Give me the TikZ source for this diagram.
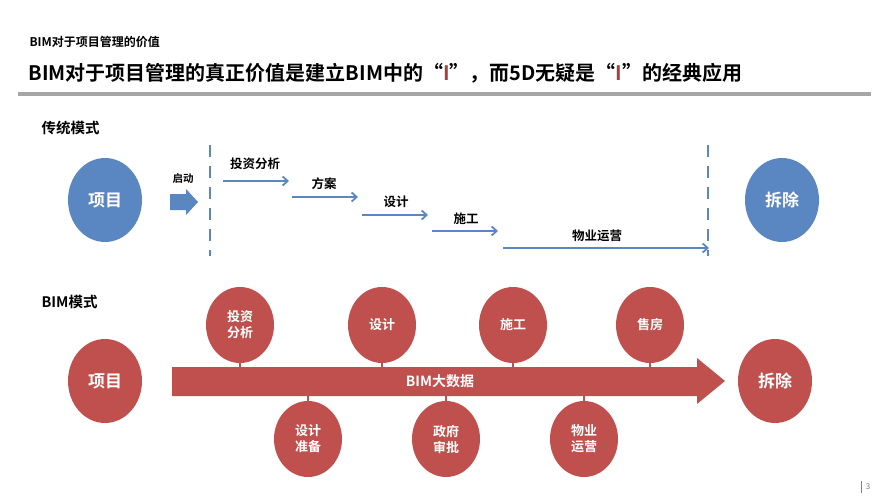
\documentclass[tikz,border=0pt]{standalone}
\usepackage{fontspec}
\setmainfont{Noto Sans CJK SC}[BoldFont={* Bold}]
\usetikzlibrary{arrows.meta,shapes.geometric}
\definecolor{bl}{HTML}{5A86C2}
\definecolor{rd}{HTML}{C0504D}
\begin{document}
\begin{tikzpicture}[x=1pt,y=-1pt,font=\bfseries,
  bcirc/.style={ellipse,draw=none,fill=bl,minimum width=74pt,minimum height=84pt,text=white,font=\bfseries\fontsize{17}{17}\selectfont},
  rcirc/.style={ellipse,draw=none,fill=rd,minimum width=74pt,minimum height=84pt,text=white,font=\bfseries\fontsize{17}{17}\selectfont},
  scirc/.style={ellipse,draw=none,fill=rd,minimum width=68pt,minimum height=76pt,inner sep=0pt,text=white,align=center,font=\bfseries\fontsize{13}{16}\selectfont},
  parr/.style={draw=bl,line width=1.8pt,-{Straight Barb[length=5pt,width=9pt]}},
  lbl/.style={font=\bfseries\fontsize{12.5}{12.5}\selectfont},
  stem/.style={draw=rd,line width=1.5pt}]
\useasboundingbox (0,0) rectangle (889,500);
\fill[white] (0,0) rectangle (889,500);
\node[anchor=west,font=\bfseries\fontsize{12}{12}\selectfont] (h1) at (26,42) {BIM对于项目管理的价值};
\node[anchor=west,font=\bfseries\fontsize{20}{20}\selectfont] (h2) at (25,73) {BIM对于项目管理的真正价值是建立BIM中的“\textcolor{rd!85!black}{I}”，而5D无疑是“\textcolor{rd!85!black}{I}”的经典应用};
\fill[gray!70] (18,92.5) rectangle (871,96);
\node[anchor=west,font=\bfseries\fontsize{14.5}{14.5}\selectfont] (t1) at (38,128) {传统模式};
\node[anchor=west,font=\bfseries\fontsize{14.5}{14.5}\selectfont] (t2) at (38,302) {BIM模式};
% traditional
\node[bcirc] (p1) at (105,200) {项目};
\node[bcirc] (e1) at (782,200) {拆除};
\coordinate (d1a) at (210,145); \coordinate (d1b) at (210,256);
\coordinate (d2a) at (708,145); \coordinate (d2b) at (708,256);
\draw[bl,line width=1.8pt,dash pattern=on 12pt off 9pt] (d1a)--(d1b);
\draw[bl,line width=1.8pt,dash pattern=on 12pt off 9pt] (d2a)--(d2b);
\node[lbl,font=\bfseries\fontsize{10.5}{10.5}\selectfont] (qd) at (183,179) {启动};
\fill[bl] (170,194)--(186,194)--(186,189)--(198,202)--(186,215)--(186,210)--(170,210)--cycle;
\coordinate (a1s) at (223,181); \coordinate (a1e) at (289,181);
\coordinate (a2s) at (292,197); \coordinate (a2e) at (358,197);
\coordinate (a3s) at (362,215); \coordinate (a3e) at (428,215);
\coordinate (a4s) at (432,231); \coordinate (a4e) at (498,231);
\coordinate (a5s) at (503,248); \coordinate (a5e) at (709,248);
\draw[parr] (a1s)--(a1e); \draw[parr] (a2s)--(a2e); \draw[parr] (a3s)--(a3e);
\draw[parr] (a4s)--(a4e); \draw[parr] (a5s)--(a5e);
\node[lbl] (l1) at (255,164) {投资分析};
\node[lbl] (l2) at (324,184) {方案};
\node[lbl] (l3) at (396,202) {设计};
\node[lbl] (l4) at (466,219) {施工};
\node[lbl] (l5) at (597,236) {物业运营};
% BIM
\node[rcirc] (p2) at (105,381) {项目};
\node[rcirc] (e2) at (775,381) {拆除};
\fill[rd] (172,367)--(697,367)--(697,358)--(725,381)--(697,404)--(697,396)--(172,396)--cycle;
\node[text=white,font=\bfseries\fontsize{14}{14}\selectfont] (big) at (440,381) {BIM大数据};
\node[scirc] (u1) at (240,325) {投资\\分析};
\node[scirc] (u2) at (382,325) {设计};
\node[scirc] (u3) at (513,325) {施工};
\node[scirc] (u4) at (650,325) {售房};
\node[scirc] (b1) at (308,439) {设计\\准备};
\node[scirc] (b2) at (446,439) {政府\\审批};
\node[scirc] (b3) at (584,439) {物业\\运营};
\foreach \n in {u1,u2,u3,u4} \draw[stem] (\n.south)--++(0,8);
\foreach \n in {b1,b2,b3} \draw[stem] (\n.north)--++(0,-8);
\draw[gray,line width=0.6pt] (861,481)--(861,493);
\node[gray,font=\fontsize{8}{8}\selectfont] (pg) at (868,487) {3};
\end{tikzpicture}
\end{document}
